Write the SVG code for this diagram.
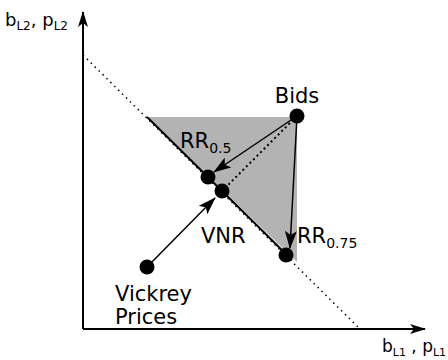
<svg xmlns="http://www.w3.org/2000/svg" width="448" height="360" viewBox="0 0 448 360">
<style>
text{font-family:"DejaVu Sans",sans-serif;font-size:21px;fill:#000}
.sub{font-size:14px}
.axl{font-size:18px}
.axl .sub{font-size:12px}
.axb{font-size:17px}
.axb .sub{font-size:11px}
.ax{stroke:#000;stroke-width:2;fill:none}
.ln{stroke:#000;stroke-width:1.5;fill:none}
.dot{fill:#000}
</style>
<defs>
<marker id="ah" viewBox="0 0 18 12" refX="17" refY="6" markerWidth="18" markerHeight="12" markerUnits="userSpaceOnUse" orient="auto">
<path d="M0,0 L18,6 L0,12 L4,6 Z" fill="#000"/>
</marker>
<marker id="ax" viewBox="0 0 16 10" refX="15" refY="5" markerWidth="16" markerHeight="10" markerUnits="userSpaceOnUse" orient="auto">
<path d="M0,0 L16,5 L0,10 L4,5 Z" fill="#000"/>
</marker>
</defs>
<g id="region"><polygon points="147,117 297,117 297,262" fill="#b3b3b3"/></g>
<g id="connectors">
<line class="ax" x1="83" y1="329" x2="83" y2="12" marker-end="url(#ax)"/>
<line class="ax" x1="83" y1="329" x2="425" y2="329" marker-end="url(#ax)"/>
<line x1="83" y1="55" x2="360" y2="329" stroke="#000" stroke-width="1.5" stroke-dasharray="1.5,4"/>
<line class="ax" x1="147" y1="117" x2="292" y2="260"/>
<line x1="297" y1="116" x2="222" y2="191" stroke="#000" stroke-width="2" stroke-dasharray="2,3"/>
<line class="ln" x1="297" y1="116" x2="214" y2="172" marker-end="url(#ah)"/>
<line class="ln" x1="297" y1="116" x2="290" y2="248" marker-end="url(#ah)"/>
<line class="ln" x1="147" y1="267" x2="215" y2="198" marker-end="url(#ah)"/>
</g>
<g id="bids"><circle class="dot" cx="297" cy="116" r="7.5"/><text x="297" y="103" text-anchor="middle">Bids</text></g>
<g id="rr05"><circle class="dot" cx="208" cy="177" r="7.5"/><text x="180" y="148">RR<tspan class="sub" dy="5">0.5</tspan></text></g>
<g id="vnr"><circle class="dot" cx="222" cy="191" r="7.5"/><text x="201" y="243">VNR</text></g>
<g id="rr075"><circle class="dot" cx="286" cy="255" r="7.5"/><text x="297" y="243">RR<tspan class="sub" dy="5">0.75</tspan></text></g>
<g id="vickrey"><circle class="dot" cx="147" cy="267" r="7.5"/><text x="115" y="301">Vickrey</text><text x="115" y="324">Prices</text></g>
<g id="axislabels">
<text class="axl" x="5" y="26">b<tspan class="sub" dy="4">L2</tspan><tspan dy="-4">, p</tspan><tspan class="sub" dy="4">L2</tspan></text>
<text class="axb" x="382" y="352">b<tspan class="sub" dy="4">L1</tspan><tspan dy="-4"> , p</tspan><tspan class="sub" dy="4">L1</tspan></text>
</g>
</svg>
